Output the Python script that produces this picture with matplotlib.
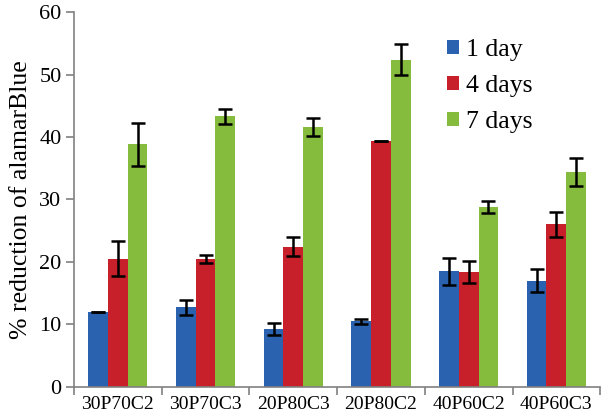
import matplotlib
matplotlib.use("Agg")
import matplotlib.pyplot as plt
import numpy as np

categories = ["30P70C2", "30P70C3", "20P80C3", "20P80C2", "40P60C2", "40P60C3"]
series_names = ["1 day", "4 days", "7 days"]
day1 = [11.9, 12.7, 9.2, 10.5, 18.5, 17.0]
day1_err = [0.0, 1.25, 1.0, 0.4, 2.15, 1.8]
day4 = [20.5, 20.5, 22.4, 39.3, 18.3, 26.0]
day4_err = [2.8, 0.65, 1.5, 0.0, 1.75, 2.0]
day7 = [38.8, 43.3, 41.6, 52.4, 28.8, 34.4]
day7_err = [3.5, 1.15, 1.4, 2.45, 0.95, 2.25]
yticks = [0, 10, 20, 30, 40, 50, 60]

colors = ["#2A62B0", "#C8202A", "#86BC3E"]

plt.rcParams['font.family'] = ['Liberation Serif', 'DejaVu Serif']

fig = plt.figure(figsize=(6.02, 4.18), dpi=100)
ax = fig.add_axes([0.123, 0.075, 0.874, 0.896])

x = np.arange(len(categories))
w = 0.225
vals = [day1, day4, day7]
errs = [day1_err, day4_err, day7_err]
for i, (v, e, c, n) in enumerate(zip(vals, errs, colors, series_names)):
    ax.bar(x + (i - 1) * w, v, width=w, color=c, label=n, zorder=2,
           yerr=e, error_kw=dict(ecolor="black", elinewidth=1.8, capsize=5, capthick=1.8))

ax.set_xlim(-0.5, len(categories) - 0.5)
ax.set_ylim(0, 60)
ax.set_yticks(yticks)
ax.set_xticks(x)
ax.set_xticklabels(categories, fontsize=14)
ax.tick_params(axis='x', length=0, pad=7)
ax.set_xticks(np.arange(len(categories) + 1) - 0.5, minor=True)
ax.tick_params(axis='x', which='minor', length=6, color="#808080", width=1.2)
ax.tick_params(axis='y', labelsize=16, length=6, color="#808080", width=1.2, pad=3)
for s in ["top", "right"]:
    ax.spines[s].set_visible(False)
for s in ["left", "bottom"]:
    ax.spines[s].set_color("#808080")
    ax.spines[s].set_linewidth(1.2)
ax.set_ylabel("% reduction of alamarBlue", fontsize=18.5, labelpad=5)

ax.legend(loc="upper left", bbox_to_anchor=(0.665, 0.99), frameon=False, fontsize=18.5,
          handlelength=0.45, handleheight=0.45, handletextpad=0.3, labelspacing=0.55)

fig.savefig("out.png", dpi=100)
